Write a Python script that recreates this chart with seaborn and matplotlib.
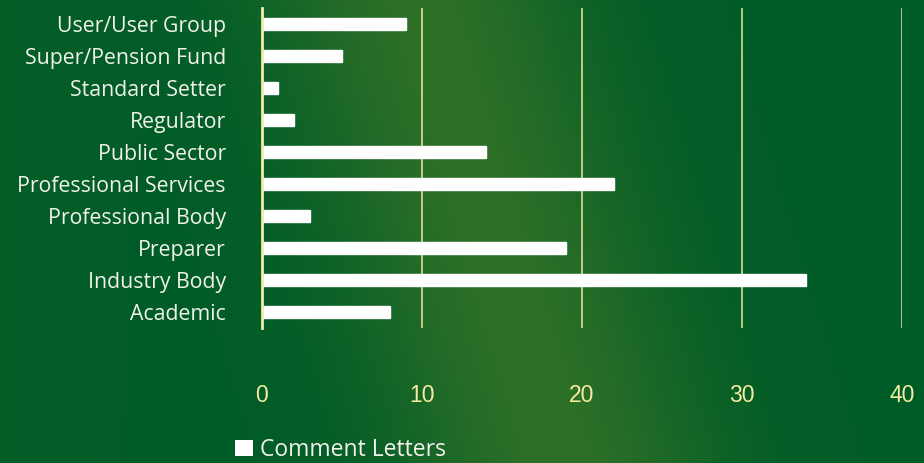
import numpy as np
import pandas as pd
import matplotlib
matplotlib.use("Agg")
import matplotlib.pyplot as plt
import seaborn as sns
from matplotlib.patches import Patch

categories = ["User/User Group", "Super/Pension Fund", "Standard Setter", "Regulator",
              "Public Sector", "Professional Services", "Professional Body", "Preparer",
              "Industry Body", "Academic"]
comment_letters = [9, 5, 1, 2, 14, 22, 3, 19, 34, 8]
x_ticks = [0, 10, 20, 30, 40]
series_name = "Comment Letters"

df = pd.DataFrame({"Category": categories, "Value": comment_letters})

sns.set_theme(style="white")
plt.rcParams['font.family'] = ['Open Sans', 'DejaVu Sans']

W, H = 924, 463
fig = plt.figure(figsize=(W / 100, H / 100), dpi=100)

# background gradient
bg = fig.add_axes([0, 0, 1, 1], zorder=-10)
yy, xx = np.mgrid[0:H, 0:W]
x0, y0, x1, y1 = 420.0, 0.0, 560.0, 463.0
dx, dy = x1 - x0, y1 - y0
d = np.abs(dy * (xx - x0) - dx * (yy - y0)) / np.hypot(dx, dy)
t = np.exp(-(d / 150.0) ** 2)
dark = np.array([0x00, 0x5c, 0x27]) / 255.0
light = np.array([0x2e, 0x70, 0x28]) / 255.0
img = dark[None, None, :] * (1 - t[..., None]) + light[None, None, :] * t[..., None]
tl = np.clip(1 - xx / 150.0, 0, 1) * 0.35
img = img * (1 - tl[..., None]) + (np.array([0x12, 0x64, 0x27]) / 255.0)[None, None, :] * tl[..., None]
bg.imshow(img, aspect="auto", extent=[0, 1, 0, 1])
bg.axis("off")

ax = fig.add_axes([262 / W, 1 - 328 / H, 640 / W, 320 / H])
ax.set_facecolor("none")
sns.barplot(data=df, x="Value", y="Category", orient="h", color="white",
            width=0.38, saturation=1, ax=ax, order=categories)

ax.set_xlim(0, 40)
ax.set_ylim(9.5, -0.5)
ax.set_xticks(x_ticks)
ax.set_xlabel("")
ax.set_ylabel("")
grid_col = "#eeeba2"
for v in x_ticks[1:]:
    ax.axvline(v, color=grid_col, lw=1.2, alpha=0.9, zorder=0)
for s in ["top", "right", "bottom"]:
    ax.spines[s].set_visible(False)
ax.spines["left"].set_color("#f0eea8")
ax.spines["left"].set_linewidth(2)
ax.tick_params(axis="x", length=0, pad=40, labelsize=16.5, labelcolor="#f3eca0")
ax.tick_params(axis="y", length=0, pad=26, labelsize=15.3, labelcolor="#f2f2ea")
for lbl in ax.get_xticklabels():
    lbl.set_fontfamily(["Liberation Sans", "DejaVu Sans"])

fig.legend(handles=[Patch(facecolor="white", edgecolor="none", label=series_name)],
           loc="center left", bbox_to_anchor=(224 / W, 1 - 450 / H), frameon=False,
           fontsize=16.5, labelcolor="#f2f2ea", handlelength=0.75, handleheight=0.75,
           handletextpad=0.3, borderpad=0)

fig.savefig("out.png", dpi=100)
